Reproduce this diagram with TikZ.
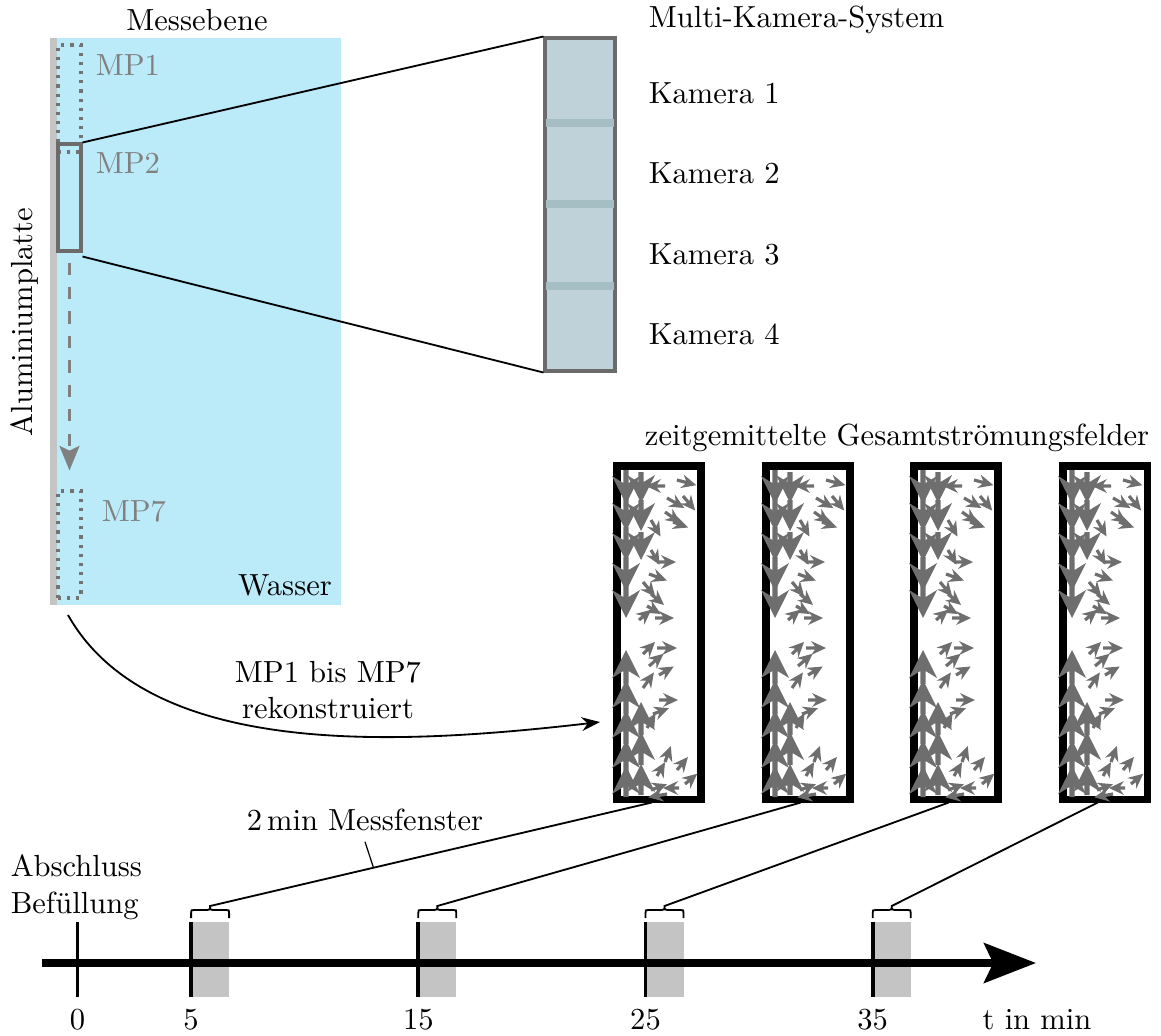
\documentclass[tikz,border=0pt]{standalone}
\usepackage{fontspec}
\usepackage{tikz}
\usetikzlibrary{positioning, arrows.meta, calc, fit}
\definecolor{wasserblau}{HTML}{BBEAF8}
\definecolor{plattegrau}{HTML}{C4C4C4}
\definecolor{kamfill}{HTML}{C0D2D9}
\definecolor{kamsep}{HTML}{A4BEC4}
\definecolor{rahmgrau}{HTML}{6B6B6B}
\definecolor{fgrau}{HTML}{6E6E6E}
\definecolor{mpgrau}{HTML}{808080}

% Stroemungsfeld: grosse Pfeile an der Platte, kleine Pfeile im Feld
\tikzset{
    stroemung/.pic={
        \foreach \px/\py/\pw/\pl in {5/0/90/34, 5/27/90/34, 5/57/90/34, 5/87/90/34, 5/115/90/33,
            20/2/90/31, 20/30/90/31, 20/62/90/28,
            5/214/270/34, 5/244/270/34, 5/274/270/34, 5/304/270/34, 5/327/270/31,
            20/265/270/33, 20/295/270/33, 20/325/270/31}
            \fill[fgrau, shift={(\px,\py)}, rotate={0-(\pw)}]
                (0,-2.6) -- (\pl-21,-2.6) -- (\pl-28,-14) -- (\pl,0) -- (\pl-28,14) -- (\pl-21,2.6) -- (0,2.6) -- cycle;
        \foreach \px/\py/\pw/\pl in {44/16/180/19, 56/10/15/20, 46/28/30/20, 62/26/50/19, 44/42/35/19,
            30/50/60/19, 52/52/20/16, 30/80/60/17, 36/92/0/19, 28/104/20/19, 22/112/50/19,
            30/124/40/17, 26/136/30/16, 34/148/0/19, 18/150/-40/16,
            22/184/-45/17, 36/178/0/20, 28/196/-40/19, 38/205/-30/17, 22/218/-55/19,
            38/230/0/19, 32/244/-20/17, 26/258/-60/17,
            44/292/-70/17, 56/300/-50/17, 64/314/-40/16, 58/318/180/16, 46/324/170/19,
            30/320/-20/17, 36/306/-60/16}
            \fill[fgrau, shift={(\px,\py)}, rotate={0-(\pw)}]
                (0,-1.6) -- (\pl-11,-1.6) -- (\pl-15,-7) -- (\pl,0) -- (\pl-15,7) -- (\pl-11,1.6) -- (0,1.6) -- cycle;
    }
}

\begin{document}
\begin{tikzpicture}[
    x=0.0115cm, y=-0.0115cm,
    mpbox/.style={draw=rahmgrau, line width=1pt, inner sep=0pt},
    mpalt/.style={draw=mpgrau!90!black, line width=1pt, dotted, inner sep=0pt},
    mplabel/.style={text=mpgrau, anchor=west},
    feld/.style={draw=black, line width=2.3pt, inner sep=0pt},
    verbind/.style={draw=black, line width=0.6pt},
    achse/.style={line width=2.4pt, -{Stealth[length=17pt, width=13pt, inset=3pt]}},
    fenster/.style={fill=plattegrau},
    tick/.style={line width=1.3pt},
]
\useasboundingbox (0,0) rectangle (1161,1035);

% Messebene mit Platte
\node[fill=wasserblau, inner sep=0pt, fit={(55,38) (341,605)}] (wasser) {};
\fill[plattegrau] (50,38) rectangle (57,605);
\node (messebene) at (197,20) {Messebene};
\node[rotate=90] (platte) at (25,322) {Aluminiumplatte};
\node[anchor=south east, inner sep=3pt] (wlabel) at (wasser.south east) {Wasser};

\node[mpalt, fit={(58,45) (81,152)}] (mp1) {};
\node[mpbox, fit={(58,144) (81,251)}] (mp2) {};
\node[mpalt, fit={(58,491) (81,598)}] (mp7) {};
\node[mplabel] at (85,65) {MP1};
\node[mplabel] at (85,163) {MP2};
\node[mplabel] at (91,511) {MP7};
\draw[draw=mpgrau, line width=1.1pt, dash pattern=on 4pt off 4pt, -{Stealth[length=8pt, width=6.5pt, inset=1.5pt]}]
    ($(mp2.south)+(0,10)$) -- ($(mp7.north)+(0,-19)$);

% Multi-Kamera-System
\node[draw=rahmgrau, fill=kamfill, line width=1pt, inner sep=0pt, fit={(545,38) (615,371)}] (mks) {};
\foreach \sy in {119, 200, 282}
    \fill[kamsep] (546,\sy) rectangle (614,\sy+8);
\node[anchor=west] (mkstitel) at (638,20) {Multi-Kamera-System};
\foreach \k/\ky in {1/93, 2/173, 3/254, 4/334}
    \node[anchor=west] (kam\k) at (638,\ky) {Kamera \k};
\draw[verbind] (mp2.north east) -- (mks.north west);
\draw[verbind] ($(mp2.south east)+(0,4)$) -- (mks.south west);

% Stroemungsfelder
\node (ftitel) at (897,438) {zeitgemittelte Gesamtströmungsfelder};
\foreach \n/\fx in {1/617, 2/766, 3/914, 4/1063} {
    \node[feld, fit={(\fx,466) (\fx+84,799)}] (f\n) {};
    \pic at (\fx+4,470) {stroemung};
}

% Rekonstruktion
\coordinate (bogenstart) at (68,615);
\coordinate (bogenende) at (600,722);
\draw[verbind, -{Stealth[length=6pt, width=4.5pt]}] (bogenstart) .. controls (150,760) and (400,745) .. (bogenende);
\node[align=center] (rekon) at (328,690) {MP1 bis MP7\\rekonstruiert};

% Zeitachse
\coordinate (a0) at (42,963);
\coordinate (a1) at (1036,963);
\foreach \t/\n in {5/1, 15/2, 25/3, 35/4} {
    \pgfmathsetmacro{\tx}{77.5+22.72*\t}
    \fill[fenster] (\tx,922) rectangle (\tx+38,997);
    \draw[line width=0.6pt] (\tx,918) -- (\tx,913) .. controls (\tx,910) .. (\tx+3,910) -- (\tx+16,910)
        .. controls (\tx+19,910) .. (\tx+19,905) .. controls (\tx+19,910) .. (\tx+22,910) -- (\tx+35,910)
        .. controls (\tx+38,910) .. (\tx+38,913) -- (\tx+38,918);
    \coordinate (b\n) at (\tx+19,906);
    \draw[verbind] (b\n) -- ($(f\n.south west)!0.42!(f\n.south east)$);
}
\draw[achse] (a0) -- (a1);
\foreach \t in {0, 5, 15, 25, 35} {
    \pgfmathsetmacro{\tx}{77.5+22.72*\t}
    \draw[tick] (\tx,922) -- (\tx,997);
    \node (z\t) at (\tx,1020) {\t};
}
\node (einheit) at (1037,1020) {t in min};
\node[align=left, anchor=west] (abschluss) at (0,887) {Abschluss\\Befüllung};

% Messfenster-Beschriftung
\path (b1) -- ($(f1.south west)!0.42!(f1.south east)$) coordinate[pos=0.37] (m1);
\node (mfenster) at (365,820) {2\,min Messfenster};
\draw[line width=0.4pt] (mfenster.south) -- (m1);
\end{tikzpicture}
\end{document}
